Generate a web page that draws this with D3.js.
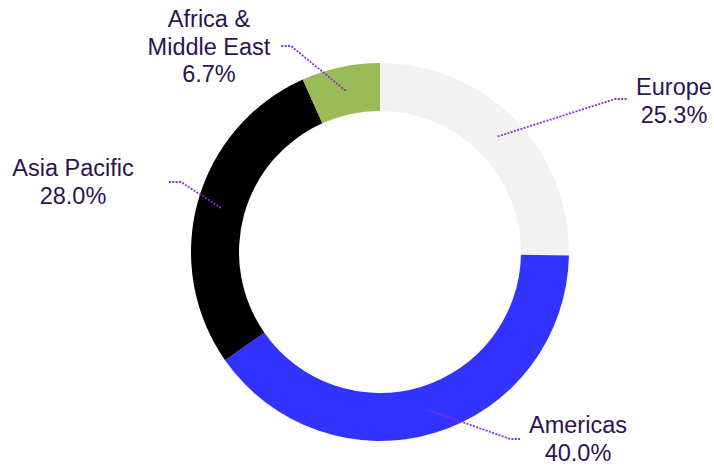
<!DOCTYPE html>
<html>
<head>
<meta charset="utf-8">
<script src="https://cdn.jsdelivr.net/npm/d3@7"></script>
<style>
  html, body { margin: 0; padding: 0; background: #fff; }
  text { font-family: "Liberation Sans", Arial, sans-serif; }
</style>
</head>
<body>
<svg id="chart" width="714" height="466"></svg>
<script>
// Data, clockwise from 12 o'clock
const regions = ['Europe', 'Americas', 'Asia Pacific', 'Africa & Middle East'];
const shares = [25.3, 40.0, 28.0, 6.7];
const labelLines = [['Europe'], ['Americas'], ['Asia Pacific'], ['Africa &', 'Middle East']];
const colors = ['#f2f2f2', '#3333ff', '#000000', '#9bbb59'];

// Layout: leader-line elbow, line end and text anchor (per slice)
const elbows = [[615, 99], [510, 439], [181, 182], [291, 46]];
const lineEnds = [[627, 99], [520, 439], [169, 182], [281, 46]];
const textAnchors = [[674, 95], [578, 433], [73, 176], [209, 27]];

const cx = 380, cy = 252, outerR = 189, innerR = 141;
const svg = d3.select('#chart');

const pie = d3.pie().sort(null).value((d) => d)(shares);
const arc = d3.arc().innerRadius(innerR).outerRadius(outerR);
const midArc = d3.arc().innerRadius((innerR + outerR) / 2).outerRadius((innerR + outerR) / 2);

const g = svg.append('g').attr('transform', `translate(${cx},${cy})`);

g.selectAll('path.slice')
  .data(pie)
  .join('path')
  .attr('class', 'slice')
  .attr('d', arc)
  .attr('fill', (d, i) => colors[i]);

// Leader lines: from slice mid-ring to elbow, then short horizontal run
svg.append('g').selectAll('path.leader')
  .data(pie)
  .join('path')
  .attr('class', 'leader')
  .attr('fill', 'none')
  .attr('stroke', '#8a2be2')
  .attr('stroke-width', 1.8)
  .attr('stroke-dasharray', '2 1.4')
  .attr('d', (d, i) => {
    const [mx, my] = midArc.centroid(d);
    return d3.line()([[cx + mx, cy + my], elbows[i], lineEnds[i]]);
  });

// Labels
const lbl = svg.append('g').selectAll('text.label')
  .data(pie)
  .join('text')
  .attr('class', 'label')
  .attr('text-anchor', 'middle')
  .attr('font-size', 23.5)
  .attr('fill', '#2d1450')
  .attr('x', (d, i) => textAnchors[i][0])
  .attr('y', (d, i) => textAnchors[i][1]);

lbl.each(function (d, i) {
  const t = d3.select(this);
  const lines = labelLines[i].concat([d.data.toFixed(1) + '%']);
  lines.forEach((s, k) => {
    t.append('tspan')
      .attr('x', textAnchors[i][0])
      .attr('dy', k === 0 ? 0 : 27.5)
      .text(s);
  });
});
</script>
</body>
</html>
